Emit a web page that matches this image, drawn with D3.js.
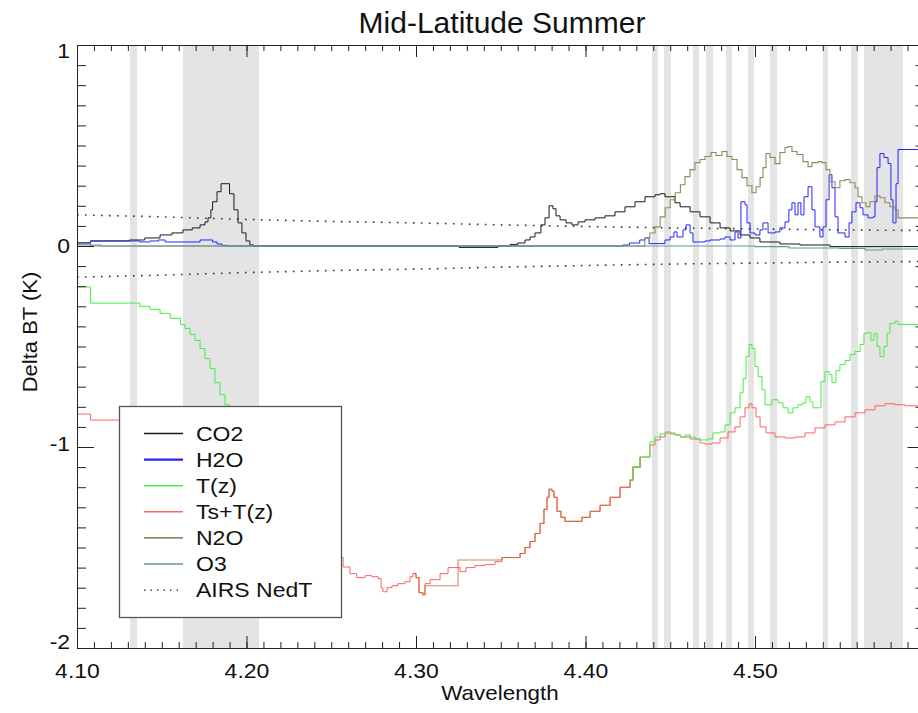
<!DOCTYPE html>
<html>
<head>
<meta charset="utf-8">
<script src="https://cdn.jsdelivr.net/npm/d3@7"></script>
<style>
  body { margin: 0; background: #fff; }
  text { font-family: "Liberation Sans", Arial, sans-serif; fill: #111; }
</style>
</head>
<body>
<script>
const WIDTH = 918, HEIGHT = 713;
const LEFT = 77, RIGHT = 924.5, TOP = 45, BOTTOM = 648;
const STRETCH = 1.15;   // the glyphs in the original are wider than Helvetica

// axis values
const xMajor = [4.10, 4.20, 4.30, 4.40, 4.50];
const yMajor = [-2, -1, 0, 1];

// shaded channel ranges (wavelength start, end)
const bands = [
  [4.1313, 4.1354], [4.1625, 4.2074], [4.4392, 4.4428], [4.4463, 4.4504],
  [4.4634, 4.4670], [4.4711, 4.4752], [4.4829, 4.4864], [4.4959, 4.4994],
  [4.5088, 4.5130], [4.5401, 4.5431], [4.5566, 4.5608], [4.5643, 4.5873]
];

// [wavelength, delta BT]
const co2 = [
  [4.100, 0.015], [4.108, 0.025], [4.131, 0.03], [4.140, 0.04], [4.149, 0.055],
  [4.156, 0.065], [4.1625, 0.08], [4.168, 0.09], [4.1726, 0.105], [4.1755, 0.12],
  [4.1773, 0.14], [4.179, 0.18], [4.180, 0.22], [4.1826, 0.27], [4.185, 0.31],
  [4.1885, 0.31], [4.190, 0.26], [4.1926, 0.18], [4.195, 0.115], [4.1973, 0.065],
  [4.1997, 0.025], [4.202, 0.005], [4.2044, 0], [4.3254, -0.007], [4.3484, 0],
  [4.3555, 0.008], [4.360, 0.015], [4.3643, 0.03], [4.3673, 0.045], [4.3702, 0.065],
  [4.3737, 0.105], [4.3761, 0.14], [4.3785, 0.2], [4.3808, 0.185], [4.3826, 0.15],
  [4.3850, 0.13], [4.3885, 0.115], [4.3920, 0.105], [4.3956, 0.12], [4.3997, 0.13],
  [4.4056, 0.14], [4.4115, 0.15], [4.4174, 0.17], [4.4233, 0.195], [4.4292, 0.22],
  [4.4351, 0.245], [4.4410, 0.255], [4.4440, 0.26], [4.4469, 0.245], [4.4528, 0.215],
  [4.4558, 0.195], [4.4617, 0.17], [4.4676, 0.145], [4.4735, 0.115], [4.4794, 0.09],
  [4.4853, 0.075], [4.4912, 0.055], [4.4971, 0.04], [4.5029, 0.02], [4.5147, 0.01],
  [4.5265, 0.005], [4.5442, -0.003], [4.600, -0.005]
];

const h2o = [
  [4.100, 0.015], [4.108, 0.025], [4.137, 0.02], [4.143, 0.025], [4.148, 0.03],
  [4.152, 0.02], [4.1726, 0.03], [4.180, 0.02], [4.1826, 0.01], [4.1855, 0.003],
  [4.189, 0], [4.4174, 0], [4.422, 0.005], [4.426, 0.015], [4.432, 0.03],
  [4.435, 0.04], [4.4375, 0.012], [4.4469, 0.03], [4.4499, 0.045], [4.4522, 0.07],
  [4.454, 0.045], [4.4575, 0.08], [4.4593, 0.105], [4.4617, 0.065], [4.4634, 0.02],
  [4.4705, 0.025], [4.4735, 0.03], [4.4794, 0.035], [4.4823, 0.045], [4.4853, 0.03],
  [4.4882, 0.07], [4.490, 0.04], [4.4917, 0.22], [4.4941, 0.205], [4.4953, 0.115],
  [4.4971, 0.065], [4.500, 0.055], [4.5029, 0.08], [4.5047, 0.115], [4.5077, 0.065],
  [4.5118, 0.07], [4.5147, 0.09], [4.5177, 0.12], [4.520, 0.18], [4.5218, 0.215],
  [4.5236, 0.155], [4.5254, 0.215], [4.5271, 0.155], [4.5289, 0.245], [4.5313, 0.295],
  [4.5336, 0.18], [4.5354, 0.095], [4.5383, 0.045], [4.5401, 0.095], [4.5419, 0.23],
  [4.5437, 0.355], [4.5454, 0.29], [4.5472, 0.145], [4.549, 0.065], [4.5531, 0.045],
  [4.5555, 0.115], [4.5572, 0.17], [4.5596, 0.215], [4.562, 0.19], [4.5637, 0.155],
  [4.5667, 0.14], [4.5696, 0.145], [4.5708, 0.22], [4.572, 0.39], [4.5737, 0.46],
  [4.5761, 0.44], [4.5785, 0.41], [4.5802, 0.23], [4.5814, 0.115], [4.5832, 0.31],
  [4.5844, 0.48], [4.600, 0.48]
];

const n2o = [
  [4.100, 0.01], [4.108, 0.005], [4.114, 0], [4.432, 0], [4.435, 0.04],
  [4.438, 0.065], [4.441, 0.095], [4.444, 0.145], [4.447, 0.19], [4.450, 0.23],
  [4.453, 0.265], [4.456, 0.305], [4.4587, 0.345], [4.4617, 0.38], [4.4646, 0.415],
  [4.4676, 0.43], [4.4705, 0.445], [4.474, 0.465], [4.477, 0.45], [4.4805, 0.47],
  [4.4835, 0.445], [4.4864, 0.43], [4.4894, 0.38], [4.4923, 0.34], [4.4953, 0.30],
  [4.4982, 0.265], [4.5006, 0.295], [4.503, 0.34], [4.5047, 0.39], [4.5065, 0.46],
  [4.5088, 0.44], [4.5118, 0.41], [4.5147, 0.465], [4.5177, 0.49], [4.5195, 0.495],
  [4.5218, 0.47], [4.5248, 0.455], [4.5283, 0.42], [4.5313, 0.395], [4.5336, 0.415],
  [4.5372, 0.42], [4.5395, 0.415], [4.5419, 0.38], [4.5442, 0.32], [4.5472, 0.29],
  [4.5501, 0.325], [4.5531, 0.33], [4.556, 0.315], [4.559, 0.29], [4.5608, 0.245],
  [4.5631, 0.215], [4.5655, 0.195], [4.5678, 0.22], [4.5708, 0.25], [4.5737, 0.24],
  [4.5767, 0.215], [4.5796, 0.195], [4.5826, 0.18], [4.5844, 0.14], [4.600, 0.14]
];

const o3 = [
  [4.100, 0.005], [4.108, 0], [4.500, -0.003], [4.520, -0.01], [4.550, -0.012],
  [4.565, -0.02], [4.575, -0.015], [4.600, -0.015]
];

// T(z): the middle part lies under the legend and the red curve
const tz1 = [
  [4.100, -0.204], [4.108, -0.284], [4.131, -0.284], [4.137, -0.30], [4.143, -0.315],
  [4.149, -0.335], [4.155, -0.36], [4.161, -0.39], [4.1637, -0.41], [4.1667, -0.44],
  [4.1696, -0.47], [4.1726, -0.51], [4.1755, -0.56], [4.1785, -0.61], [4.1814, -0.68],
  [4.1844, -0.74], [4.1873, -0.79], [4.190, -0.86], [4.193, -0.95], [4.196, -1.05]
];
const tz2 = [
  [4.4263, -1.165], [4.428, -1.10], [4.432, -1.05], [4.438, -0.975], [4.441, -0.95],
  [4.444, -0.935], [4.447, -0.925], [4.450, -0.93], [4.453, -0.94], [4.456, -0.95],
  [4.459, -0.94], [4.4617, -0.95], [4.4646, -0.96], [4.4676, -0.965], [4.4723, -0.96],
  [4.4752, -0.93], [4.4794, -0.925], [4.4823, -0.89], [4.4853, -0.83], [4.4882, -0.805],
  [4.4912, -0.73], [4.493, -0.66], [4.4947, -0.55], [4.4965, -0.49], [4.4982, -0.51],
  [4.500, -0.60], [4.5018, -0.65], [4.5041, -0.715], [4.5059, -0.79], [4.510, -0.765],
  [4.5136, -0.78], [4.5165, -0.805], [4.5195, -0.83], [4.5224, -0.805], [4.5254, -0.79],
  [4.5283, -0.78], [4.5301, -0.75], [4.5324, -0.775], [4.5342, -0.805], [4.5366, -0.805],
  [4.5389, -0.675], [4.5413, -0.625], [4.5437, -0.64], [4.5454, -0.68], [4.5478, -0.62],
  [4.5501, -0.59], [4.5531, -0.57], [4.556, -0.54], [4.559, -0.525], [4.562, -0.49],
  [4.5643, -0.435], [4.5667, -0.43], [4.5684, -0.47], [4.5702, -0.435], [4.572, -0.50],
  [4.5737, -0.55], [4.5761, -0.50], [4.5779, -0.435], [4.5796, -0.385], [4.5826, -0.375],
  [4.5844, -0.39], [4.600, -0.39]
];

const tsz = [
  [4.100, -0.836], [4.108, -0.866], [4.125, -0.866], [4.150, -0.95], [4.180, -1.15],
  [4.210, -1.40], [4.240, -1.55], [4.257, -1.597], [4.261, -1.63], [4.265, -1.65],
  [4.270, -1.64], [4.274, -1.645], [4.2776, -1.655], [4.2794, -1.70], [4.2805, -1.72],
  [4.2829, -1.70], [4.2858, -1.69], [4.2894, -1.68], [4.2935, -1.67], [4.2965, -1.645],
  [4.2982, -1.63], [4.300, -1.65], [4.3018, -1.725], [4.3041, -1.735], [4.3053, -1.68],
  [4.3083, -1.66], [4.3142, -1.63], [4.3189, -1.60], [4.326, -1.62], [4.3295, -1.60],
  [4.3348, -1.59], [4.3407, -1.585], [4.3466, -1.57], [4.3507, -1.55], [4.3614, -1.53],
  [4.3643, -1.50], [4.3673, -1.47], [4.3702, -1.43], [4.3732, -1.38], [4.3755, -1.31],
  [4.3773, -1.25], [4.3785, -1.21], [4.3802, -1.22], [4.3814, -1.25], [4.3832, -1.32],
  [4.3855, -1.35], [4.3879, -1.37], [4.3979, -1.35], [4.4027, -1.32], [4.4086, -1.29],
  [4.4145, -1.25], [4.4204, -1.20], [4.4263, -1.165], [4.428, -1.10], [4.4322, -1.05],
  [4.438, -0.99], [4.441, -0.965], [4.444, -0.95], [4.447, -0.93], [4.450, -0.935],
  [4.453, -0.94], [4.456, -0.95], [4.4617, -0.96], [4.4676, -0.98], [4.4705, -0.985],
  [4.4746, -0.98], [4.4794, -0.955], [4.4841, -0.925], [4.4882, -0.90], [4.4912, -0.85],
  [4.4941, -0.805], [4.4965, -0.785], [4.4982, -0.805], [4.5006, -0.85], [4.503, -0.90],
  [4.5065, -0.93], [4.5118, -0.95], [4.5177, -0.955], [4.5236, -0.95], [4.5295, -0.93],
  [4.5354, -0.905], [4.5413, -0.89], [4.5472, -0.875], [4.5531, -0.85], [4.559, -0.83],
  [4.5649, -0.815], [4.5708, -0.795], [4.5767, -0.785], [4.5826, -0.79], [4.5885, -0.795],
  [4.600, -0.795]
];

// darker trace over Ts+T(z) near 4.30 (with its little box)
const tszBox = [
  [4.2982, -1.63], [4.300, -1.65], [4.3018, -1.725], [4.3041, -1.735], [4.3053, -1.69],
  [4.3248, -1.562], [4.3478, -1.562]
];

const nedt = [
  [4.10, 0.155], [4.15, 0.145], [4.20, 0.132], [4.25, 0.122], [4.30, 0.115],
  [4.35, 0.105], [4.40, 0.097], [4.45, 0.09], [4.50, 0.085], [4.55, 0.08], [4.60, 0.077]
];

const legendNames  = ["CO2", "H2O", "T(z)", "Ts+T(z)", "N2O", "O3", "AIRS NedT"];
const legendColors = ["#1a1a1a", "#2424ff", "#44ee44", "#ff6262", "#8c8c5e", "#5e9c9e", "#222"];

const svg = d3.select("body").append("svg")
  .attr("width", WIDTH)
  .attr("height", HEIGHT);

const x = d3.scaleLinear().domain([4.10, 4.60]).range([LEFT, RIGHT]);
const y = d3.scaleLinear().domain([-2, 1]).range([BOTTOM, TOP]);

function drawBands() {
  svg.append("g").selectAll("rect")
    .data(bands)
    .enter().append("rect")
      .attr("x", d => x(d[0]))
      .attr("y", TOP)
      .attr("width", d => x(d[1]) - x(d[0]))
      .attr("height", BOTTOM - TOP)
      .style("fill", "#e4e4e4");
}

function styleAxis(g) {
  g.selectAll("path, line").style("stroke", "#222").style("stroke-width", 1);
  g.selectAll("text")
    .style("font-size", "20px")
    .style("font-family", "'Liberation Sans', Arial, sans-serif")
    .style("fill", "#111")
    .attr("transform", "scale(" + STRETCH + ",1)");
}

function addAxis() {
  const xMinor = d3.range(0, 51).map(i => 4.10 + i * 0.01);
  const yMinor = d3.range(0, 31).map(i => -2 + i * 0.1);

  // bottom
  svg.append("g").attr("transform", "translate(0," + BOTTOM + ")")
    .call(d3.axisBottom(x).tickValues(xMinor).tickSize(-6).tickSizeOuter(0).tickFormat(""))
    .call(styleAxis);
  svg.append("g").attr("transform", "translate(0," + BOTTOM + ")")
    .call(d3.axisBottom(x).tickValues(xMajor).tickSize(-12).tickSizeOuter(0)
      .tickPadding(16).tickFormat(d3.format(".2f")))
    .call(styleAxis);

  // top
  svg.append("g").attr("transform", "translate(0," + TOP + ")")
    .call(d3.axisTop(x).tickValues(xMinor).tickSize(-6).tickSizeOuter(0).tickFormat(""))
    .call(styleAxis);
  svg.append("g").attr("transform", "translate(0," + TOP + ")")
    .call(d3.axisTop(x).tickValues(xMajor).tickSize(-12).tickSizeOuter(0).tickFormat(""))
    .call(styleAxis);

  // left
  svg.append("g").attr("transform", "translate(" + LEFT + ",0)")
    .call(d3.axisLeft(y).tickValues(yMinor).tickSize(-9).tickSizeOuter(0).tickFormat(""))
    .call(styleAxis);
  const yl = svg.append("g").attr("transform", "translate(" + LEFT + ",0)")
    .call(d3.axisLeft(y).tickValues(yMajor).tickSize(-17).tickSizeOuter(0)
      .tickPadding(6).tickFormat(d => String(d)))
    .call(styleAxis);
  // end labels are pulled inside the frame, as in the original
  yl.selectAll("text").attr("y", d => d === 1 ? 6 : (d === -2 ? -6 : (d === -1 ? -3 : 0)));

  // right
  svg.append("g").attr("transform", "translate(" + RIGHT + ",0)")
    .call(d3.axisRight(y).tickValues(yMinor).tickSize(-9).tickSizeOuter(0).tickFormat(""))
    .call(styleAxis);
  svg.append("g").attr("transform", "translate(" + RIGHT + ",0)")
    .call(d3.axisRight(y).tickValues(yMajor).tickSize(-17).tickSizeOuter(0).tickFormat(""))
    .call(styleAxis);
}

function drawChart() {
  const step = d3.line()
    .x(d => x(d[0]))
    .y(d => y(d[1]))
    .curve(d3.curveStepAfter);
  const smooth = d3.line()
    .x(d => x(d[0]))
    .y(d => y(d[1]));

  // noise level, plus and minus
  svg.append("path").datum(nedt)
    .attr("d", smooth).style("fill", "none").style("stroke", "#333")
    .style("stroke-width", 1.6).style("stroke-dasharray", "1.6,6.4");
  svg.append("path").datum(nedt.map(d => [d[0], -d[1]]))
    .attr("d", smooth).style("fill", "none").style("stroke", "#333")
    .style("stroke-width", 1.6).style("stroke-dasharray", "1.6,6.4");

  const curves = [
    [co2, legendColors[0], 1],
    [h2o, legendColors[1], 1],
    [n2o, legendColors[4], 1.1],
    [o3, legendColors[5], 1.1],
    [tsz, legendColors[3], 1],
    [tszBox.concat(tsz.filter(d => d[0] >= 4.3507 && d[0] <= 4.4322)), "#c26a36", 1.1],
    [tz1, legendColors[2], 1],
    [tz2, legendColors[2], 1]
  ];
  svg.append("g").selectAll("path")
    .data(curves)
    .enter().append("path")
      .attr("d", d => step(d[0]))
      .style("fill", "none")
      .style("stroke", d => d[1])
      .style("stroke-width", d => d[2])
      .style("stroke-opacity", (d, i) => i === 5 ? 0.8 : 1);
}

function drawLegend() {
  const g = svg.append("g");
  g.append("rect")
    .attr("x", 119.5).attr("y", 406.5)
    .attr("width", 222).attr("height", 211)
    .style("fill", "#fff").style("stroke", "#555").style("stroke-width", 1.3);

  const rows = g.selectAll("g.row")
    .data(legendNames)
    .enter().append("g")
      .attr("class", "row")
      .attr("transform", (d, i) => "translate(0," + (433.5 + i * 26.1) + ")");
  rows.append("line")
    .attr("x1", 144).attr("x2", 183)
    .style("stroke", (d, i) => legendColors[i])
    .style("stroke-width", (d, i) => i === 1 ? 2.2 : (i === 6 ? 1.4 : 1.6))
    .style("stroke-dasharray", (d, i) => i === 6 ? "1.5,5" : null);
  rows.append("text")
    .attr("transform", "translate(196,0) scale(" + STRETCH + ",1)")
    .attr("dy", "0.36em")
    .style("font-size", "20px")
    .text(d => d);
}

function setChartTitles() {
  svg.append("text")
    .attr("x", 502).attr("y", 33)
    .style("text-anchor", "middle")
    .style("font-size", "30px")
    .text("Mid-Latitude Summer");
  svg.append("text")
    .attr("transform", "translate(500,700) scale(1.12,1)")
    .style("text-anchor", "middle")
    .style("font-size", "20px")
    .text("Wavelength");
  svg.append("text")
    .attr("transform", "translate(37,332) rotate(-90) scale(1.1,1)")
    .style("text-anchor", "middle")
    .style("font-size", "20px")
    .text("Delta BT (K)");
}

drawBands();
drawChart();
addAxis();
drawLegend();
setChartTitles();
</script>
</body>
</html>
